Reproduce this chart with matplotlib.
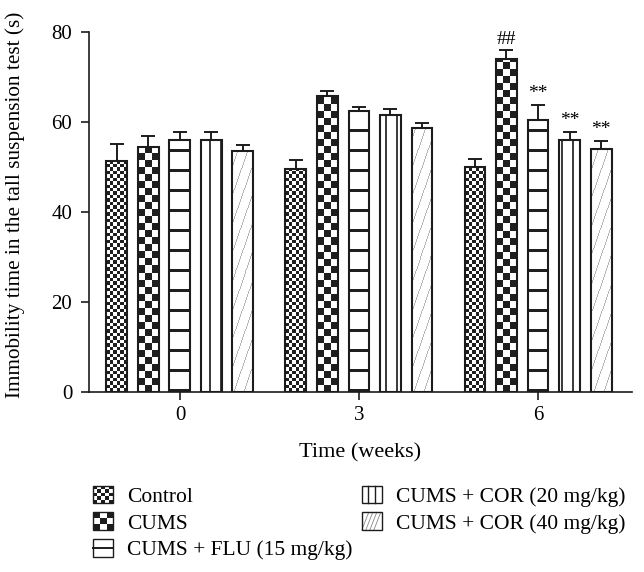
# Immobility time in the tail suspension test, grouped bars with fill patterns
import numpy as np
import matplotlib
matplotlib.use("Agg")
import matplotlib.pyplot as plt
from matplotlib.patches import Rectangle
from matplotlib.lines import Line2D
from matplotlib.legend_handler import HandlerBase

plt.rcParams["font.family"] = ["Liberation Serif", "DejaVu Serif"]

# Data
weeks = ["0", "3", "6"]
groups = [
    "Control",
    "CUMS",
    "CUMS + FLU (15 mg/kg)",
    "CUMS + COR (20 mg/kg)",
    "CUMS + COR (40 mg/kg)",
]
control = [51.3, 49.5, 50.0]
cums = [54.5, 65.8, 74.1]
flu = [55.9, 62.4, 60.4]
cor20 = [56.0, 61.6, 56.1]
cor40 = [53.6, 58.7, 54.1]
control_err = [3.8, 2.1, 1.7]
cums_err = [2.5, 1.1, 1.8]
flu_err = [1.8, 1.0, 3.4]
cor20_err = [1.8, 1.4, 1.7]
cor40_err = [1.4, 1.1, 1.7]
week6_marks = ["", "##", "**", "**", "**"]

means = [control, cums, flu, cor20, cor40]
errs = [control_err, cums_err, flu_err, cor20_err, cor40_err]
patterns = ["checker_fine", "checker_coarse", "hstripes", "vlines", "diag"]

INK = "#1c1c1c"


def pattern_array(kind, w, h, px0, py0):
    yy, xx = np.mgrid[0:h, 0:w]
    X = xx + int(round(px0))
    Y = yy + int(round(py0))
    if kind == "checker_fine":
        return (((xx / 3.45).astype(int) + (yy / 3.45).astype(int)) % 2).astype(float)
    if kind == "checker_coarse":
        return (((xx / 7.0).astype(int) + (yy / 7.0).astype(int)) % 2).astype(float)
    if kind == "hstripes":
        return ((yy % 20) < 3).astype(float)
    if kind == "vlines":
        return ((X % 11) < 1.5).astype(float) * 0.9
    if kind == "diag":
        d = (X - 0.35 * Y) % 10
        return (d < 1.0).astype(float) * 0.45
    return np.zeros((h, w))


def fill_bar(ax, bar, kind):
    (px0, py0), (px1, py1) = ax.transData.transform(
        [(bar.get_x(), bar.get_y()),
         (bar.get_x() + bar.get_width(), bar.get_y() + bar.get_height())]
    )
    w = max(int(round(px1 - px0)), 1)
    h = max(int(round(py1 - py0)), 1)
    img = pattern_array(kind, w, h, px0, py0)
    ax.imshow(
        img,
        extent=(bar.get_x(), bar.get_x() + bar.get_width(), bar.get_y(), bar.get_y() + bar.get_height()),
        origin="lower", cmap="Greys", vmin=0, vmax=1.12, aspect="auto",
        interpolation="nearest", zorder=2,
    )


class PatternHandler(HandlerBase):
    def create_artists(self, legend, orig_handle, xdescent, ydescent, width, height, fontsize, trans):
        kind = orig_handle.get_gid()
        x0, y0 = -xdescent, -ydescent
        arts = []
        if kind.startswith("checker"):
            n = 5 if kind == "checker_fine" else 3
            cw, ch = width / n, height / n
            for i in range(n):
                for j in range(n):
                    if (i + j) % 2 == 0:
                        arts.append(Rectangle((x0 + i * cw, y0 + j * ch), cw, ch,
                                              facecolor=INK, edgecolor="none", transform=trans))
        elif kind == "hstripes":
            arts.append(Line2D([x0, x0 + width], [y0 + height / 2] * 2, color=INK, lw=1.4, transform=trans))
        elif kind == "vlines":
            for f in (1 / 3, 2 / 3):
                arts.append(Line2D([x0 + f * width] * 2, [y0, y0 + height], color=INK, lw=1.0, transform=trans))
        elif kind == "diag":
            for t in (0.0, 0.2, 0.4, 0.6):
                arts.append(Line2D([x0 + t * width, x0 + (t + 0.35) * width], [y0, y0 + height],
                                   color="#888888", lw=0.6, transform=trans))
        arts.append(Rectangle((x0, y0), width, height, facecolor="none",
                              edgecolor=INK, lw=1.0, transform=trans))
        return arts


fig = plt.figure(figsize=(6.44, 5.72), dpi=100)
ax = fig.add_axes([89 / 644, 1 - 392 / 572, 543 / 644, 360 / 572])

x = np.arange(len(weeks))
step = 0.176
width = 0.117
ax.set_xlim(-0.508, 2.525)
ax.set_ylim(0, 80)

for i, (vals, e, kind) in enumerate(zip(means, errs, patterns)):
    xs = x + (i - 2) * step
    ax.errorbar(xs, vals, yerr=[np.zeros(len(e)), e], fmt="none", ecolor=INK,
                elinewidth=1.4, capsize=4.8, capthick=1.4, zorder=1)
    bars = ax.bar(xs, vals, width, facecolor="none", edgecolor=INK, linewidth=1.5, zorder=3)
    for b in bars:
        fill_bar(ax, b, kind)
    if week6_marks[i]:
        ax.annotate(week6_marks[i], (xs[2], vals[2] + e[2]), xytext=(0, 2),
                    textcoords="offset points", ha="center", va="bottom", fontsize=14)

ax.set_xlim(-0.508, 2.525)
ax.set_ylim(0, 80)

ax.spines["top"].set_visible(False)
ax.spines["right"].set_visible(False)
for s in ("left", "bottom"):
    ax.spines[s].set_linewidth(1.2)
    ax.spines[s].set_color(INK)

ax.set_xticks(x)
ax.set_xticklabels(weeks)
ax.set_yticks(np.arange(0, 81, 20))
ax.tick_params(direction="out", length=6, width=1.2, color=INK, labelsize=15, pad=4)
ax.tick_params(axis="y", pad=6)

ax.set_ylabel("Immobility time in the tall suspension test (s)", fontsize=15.3)
ax.yaxis.set_label_coords(-0.118, 0.52)
ax.set_xlabel("Time (weeks)", fontsize=16)
ax.xaxis.set_label_coords(0.5, -0.141)

handles = [Rectangle((0, 0), 1, 1, gid=k) for k in patterns]
fig.legend(
    handles, groups, ncol=2, loc="upper left", bbox_to_anchor=(0.128, 0.17),
    frameon=False, fontsize=15.5, handlelength=0.93, handleheight=0.9,
    handletextpad=0.65, labelspacing=0.25, columnspacing=0.42, borderpad=0,
    handler_map={Rectangle: PatternHandler()},
)

fig.savefig("out.png", dpi=100)
